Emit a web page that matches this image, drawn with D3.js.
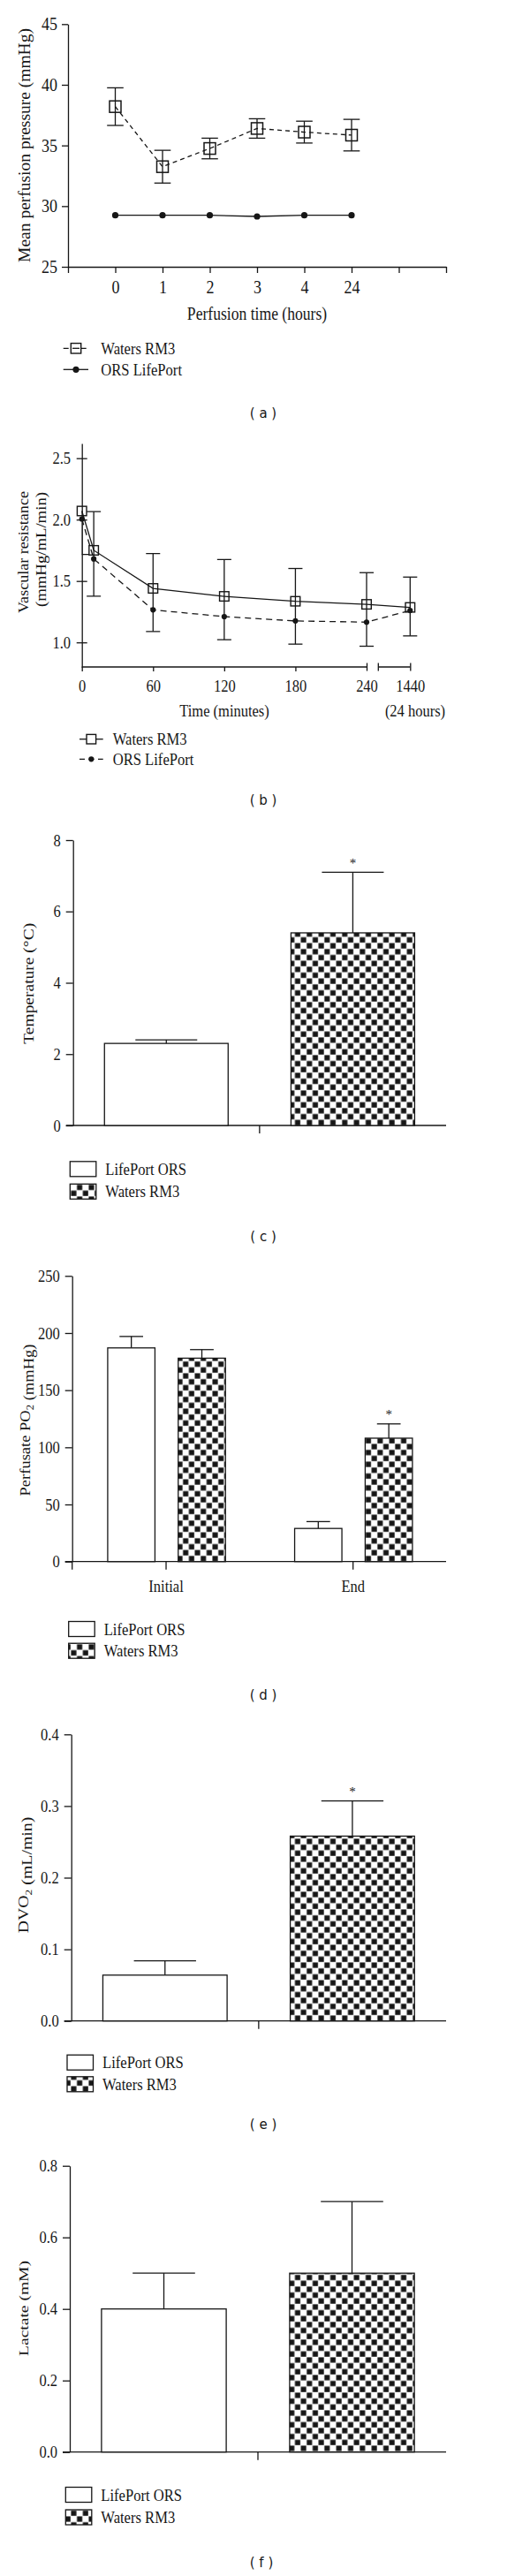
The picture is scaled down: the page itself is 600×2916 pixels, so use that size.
<!DOCTYPE html>
<html><head><meta charset="utf-8">
<script src="https://cdn.jsdelivr.net/npm/d3@7"></script>
<style>
html,body{margin:0;padding:0;background:#fff;}
</style></head>
<body><svg id="c" width="600" height="2916" style="display:block;background:#fff"></svg>
<script>
// ================= DATA =================
// (a) Mean perfusion pressure
const aTimeLabels = ["0", "1", "2", "3", "4", "24"];
const aWaters     = [38.2, 33.25, 34.75, 36.4, 36.1, 35.85];
const aWatersErr  = [1.55, 1.35, 0.85, 0.8, 0.9, 1.3];
const aORS        = [29.25, 29.25, 29.25, 29.15, 29.25, 29.25];
const aYTicks     = [25, 30, 35, 40, 45];

// (b) Vascular resistance
const bTimes      = [0, 10, 60, 120, 180, 240, 1440];
const bWaters     = [2.07, 1.75, 1.44, 1.375, 1.335, 1.31, 1.285];
const bWatersErr  = [0, 0.315, 0.284, 0.30, 0.267, 0.258, 0.247];
const bORS        = [2.005, 1.68, 1.265, 1.21, 1.175, 1.165, 1.26];
const bORSErr     = [0.288, 0.304, 0.176, 0.188, 0.189, 0.196, 0.207];
const bXTicks     = [0, 60, 120, 180, 240, 1440];
const bYTicks     = [1.0, 1.5, 2.0, 2.5];

// bar panels
const barSeries   = ["LifePort ORS", "Waters RM3"];
// (c) Temperature
const cValues     = [2.3, 5.4];
const cErr        = [0.1, 1.7];
const cYTicks     = [0, 2, 4, 6, 8];
// (d) Perfusate PO2
const dGroups     = ["Initial", "End"];
const dLifePort   = [187, 29];
const dLifePortErr= [10, 6];
const dWaters     = [178, 108];
const dWatersErr  = [7.5, 12.5];
const dYTicks     = [0, 50, 100, 150, 200, 250];
// (e) DVO2
const eValues     = [0.064, 0.258];
const eErr        = [0.02, 0.049];
const eYTicks     = [0, 0.1, 0.2, 0.3, 0.4];
// (f) Lactate
const fValues     = [0.4, 0.5];
const fErr        = [0.1, 0.2];
const fYTicks     = [0, 0.2, 0.4, 0.6, 0.8];

// ================= HELPERS =================
const INK = "#161616";
const SERIF = "'Liberation Serif','Times New Roman',serif";
const SANS = "'DejaVu Sans',Verdana,sans-serif";
const SY = 1.15;
const SW = 1.3;
const CAPX = 298;
const svg = d3.select("#c");

const defs = svg.append("defs");
function checker(id, cell) {
  const p = defs.append("pattern").attr("id", id).attr("patternUnits", "userSpaceOnUse")
    .attr("width", cell * 2).attr("height", cell * 2);
  p.append("rect").attr("width", cell * 2).attr("height", cell * 2).attr("fill", "#fff");
  p.append("rect").attr("x", 0.4).attr("y", 0.4).attr("width", cell - 0.6).attr("height", cell - 0.6).attr("fill", INK);
  p.append("rect").attr("x", cell + 0.4).attr("y", cell + 0.4).attr("width", cell - 0.6).attr("height", cell - 0.6).attr("fill", INK);
}
checker("chk", 6.67);

function hlabel(g, x, y, str, fs, anchor = "middle", family = SERIF, sy = SY) {
  return g.append("text").attr("font-family", family).attr("font-size", fs).attr("fill", INK)
    .attr("text-anchor", anchor).attr("dy", "0.35em")
    .attr("transform", `translate(${x},${y}) scale(1,${sy})`).text(str);
}
function vlabel(g, x, y, parts, fs, target) {
  const t = g.append("text").attr("font-family", SERIF).attr("font-size", fs).attr("fill", INK)
    .attr("text-anchor", "middle").attr("dy", "0.35em");
  parts.forEach(p => {
    if (typeof p === "string") t.append("tspan").text(p);
    else t.append("tspan").attr("font-size", fs * 0.68).attr("dy", p.dy).text(p.t);
  });
  let s = 1;
  try { const len = t.node().getComputedTextLength(); if (len > 0 && target) s = target / len; } catch (e) {}
  t.attr("transform", `translate(${x},${y}) rotate(-90) scale(${s},1)`);
  return t;
}
function styleAxis(g, fs) {
  g.select(".domain").attr("stroke", INK).attr("stroke-width", SW);
  g.selectAll(".tick line").attr("stroke", INK).attr("stroke-width", SW);
  g.selectAll(".tick text").attr("font-family", SERIF).attr("font-size", fs).attr("fill", INK)
    .attr("transform", `scale(1,${SY})`);
}
function caption(y, letter, x = CAPX) {
  hlabel(svg, x, y, `( ${letter} )`, 15, "middle", SANS, 1.05);
}

// ================= PANEL (a) =================
(function () {
  const g = svg.append("g");
  const x = d3.scaleLinear().domain([-1, 7]).range([77, 505]);
  const y = d3.scaleLinear().domain([25, 45]).range([302, 27.3]);
  const ya = g.append("g").attr("transform", `translate(${x(-1)},0)`)
    .call(d3.axisLeft(y).tickValues(aYTicks).tickSize(7).tickPadding(5).tickSizeOuter(0));
  styleAxis(ya, 18);
  const xa = g.append("g").attr("transform", `translate(0,${y(25)})`)
    .call(d3.axisBottom(x).tickValues(d3.range(-1, 8)).tickFormat(i => aTimeLabels[i] ?? "")
      .tickSize(7).tickPadding(6).tickSizeOuter(0));
  styleAxis(xa, 18);

  const idx = aWaters.map((_, i) => i);
  g.append("path").datum(aORS).attr("fill", "none").attr("stroke", INK).attr("stroke-width", SW)
    .attr("d", d3.line().x((d, i) => x(i)).y(d => y(d)));
  g.selectAll(".orsA").data(aORS).join("circle").attr("cx", (d, i) => x(i)).attr("cy", d => y(d))
    .attr("r", 3.6).attr("fill", INK);
  const eb = g.append("g").attr("stroke", INK).attr("stroke-width", SW);
  idx.forEach(i => {
    const cx = x(i), hi = y(aWaters[i] + aWatersErr[i]), lo = y(aWaters[i] - aWatersErr[i]);
    eb.append("line").attr("x1", cx).attr("x2", cx).attr("y1", hi).attr("y2", lo);
    eb.append("line").attr("x1", cx - 9.3).attr("x2", cx + 9.3).attr("y1", hi).attr("y2", hi);
    eb.append("line").attr("x1", cx - 9.3).attr("x2", cx + 9.3).attr("y1", lo).attr("y2", lo);
  });
  g.append("path").datum(aWaters).attr("fill", "none").attr("stroke", INK).attr("stroke-width", SW)
    .attr("stroke-dasharray", "5,4").attr("d", d3.line().x((d, i) => x(i)).y(d => y(d)));
  g.selectAll(".wA").data(aWaters).join("rect").attr("x", (d, i) => x(i) - 6.5).attr("y", d => y(d) - 6.5)
    .attr("width", 13).attr("height", 13).attr("fill", "none").attr("stroke", INK).attr("stroke-width", 1.5);

  vlabel(g, 28, 164.5, ["Mean perfusion pressure (mmHg)"], 18.5, 265);
  hlabel(g, 291, 355, "Perfusion time (hours)", 17.6);

  const L = g.append("g");
  L.append("line").attr("x1", 71.7).attr("x2", 100).attr("y1", 394.3).attr("y2", 394.3)
    .attr("stroke", INK).attr("stroke-width", SW).attr("stroke-dasharray", "6,4");
  L.append("rect").attr("x", 86 - 5.7).attr("y", 394.3 - 5.7).attr("width", 11.4).attr("height", 11.4)
    .attr("fill", "#fff").attr("stroke", INK).attr("stroke-width", 1.4);
  L.append("line").attr("x1", 82).attr("x2", 90).attr("y1", 394.3).attr("y2", 394.3).attr("stroke", INK).attr("stroke-width", SW);
  hlabel(L, 114.3, 394.3, "Waters RM3", 16.6, "start");
  L.append("line").attr("x1", 71.7).attr("x2", 100).attr("y1", 418.3).attr("y2", 418.3)
    .attr("stroke", INK).attr("stroke-width", SW);
  L.append("circle").attr("cx", 86).attr("cy", 418.3).attr("r", 3.6).attr("fill", INK);
  hlabel(L, 114.3, 418.3, "ORS LifePort", 16.6, "start");
  caption(467, "a");
})();

// ================= PANEL (b) =================
(function () {
  const g = svg.append("g");
  const x = d3.scaleLinear().domain([0, 240, 1440]).range([92.7, 415, 464.3]);
  const y = d3.scaleLinear().domain([0.8, 2.62]).range([755, 502]);
  const ya = g.append("g").attr("transform", `translate(${x(0)},0)`)
    .call(d3.axisLeft(y).tickValues(bYTicks).tickFormat(d3.format(".1f")).tickSize(6).tickPadding(6.7).tickSizeOuter(0));
  styleAxis(ya, 16.5);
  ya.selectAll(".tick line").attr("x1", 6);
  const xa = g.append("g").attr("transform", `translate(0,${y(0.8)})`)
    .call(d3.axisBottom(x).tickValues(bXTicks).tickFormat(d => String(d)).tickSize(5).tickPadding(8).tickSizeOuter(0));
  styleAxis(xa, 16.5);
  xa.select(".domain").remove();
  xa.selectAll(".tick line").filter(d => d >= 240).attr("y1", -4.5).attr("y2", 4.5);
  const y0 = y(0.8), gap = 13.3;
  g.append("line").attr("x1", x(0)).attr("x2", x(240)).attr("y1", y0).attr("y2", y0).attr("stroke", INK).attr("stroke-width", SW);
  g.append("line").attr("x1", x(240) + gap).attr("x2", x(1440)).attr("y1", y0).attr("y2", y0).attr("stroke", INK).attr("stroke-width", SW);
  g.append("line").attr("x1", x(240) + gap).attr("x2", x(240) + gap).attr("y1", y0 - 4.5).attr("y2", y0 + 4.5).attr("stroke", INK).attr("stroke-width", SW);

  defs.append("clipPath").attr("id", "clipB").append("rect").attr("x", x(0)).attr("y", 490).attr("width", 420).attr("height", 270);
  const eb = g.append("g").attr("clip-path", "url(#clipB)").attr("stroke", INK).attr("stroke-width", SW);
  bTimes.forEach((t, i) => {
    const cx = x(t);
    const top = y(bWaters[i] + bWatersErr[i]);
    const bot = y(bORS[i] - bORSErr[i]);
    eb.append("line").attr("x1", cx).attr("x2", cx).attr("y1", top).attr("y2", bot);
    if (bWatersErr[i] > 0) eb.append("line").attr("x1", cx - 8).attr("x2", cx + 8).attr("y1", top).attr("y2", top);
    if (bORSErr[i] > 0) eb.append("line").attr("x1", cx - 8).attr("x2", cx + 8).attr("y1", bot).attr("y2", bot);
  });
  g.append("path").datum(bORS).attr("fill", "none").attr("stroke", INK).attr("stroke-width", SW)
    .attr("stroke-dasharray", "7,5").attr("d", d3.line().x((d, i) => x(bTimes[i])).y(d => y(d)));
  g.append("path").datum(bWaters).attr("fill", "none").attr("stroke", INK).attr("stroke-width", SW)
    .attr("d", d3.line().x((d, i) => x(bTimes[i])).y(d => y(d)));
  g.selectAll(".wB").data(bWaters).join("rect").attr("x", (d, i) => x(bTimes[i]) - 5.3).attr("y", d => y(d) - 5.3)
    .attr("width", 10.6).attr("height", 10.6).attr("fill", "none").attr("stroke", INK).attr("stroke-width", 1.4);
  g.selectAll(".oB").data(bORS).join("circle").attr("cx", (d, i) => x(bTimes[i])).attr("cy", d => y(d))
    .attr("r", 3.1).attr("fill", INK);

  vlabel(g, 26.7, 625, ["Vascular resistance"], 16, 138);
  vlabel(g, 46, 622, ["(mmHg/mL/min)"], 16, 130);
  hlabel(g, 254, 804, "Time (minutes)", 16.5);
  hlabel(g, 470, 804, "(24 hours)", 16.5);

  const L = g.append("g");
  L.append("line").attr("x1", 90).attr("x2", 116.7).attr("y1", 836.7).attr("y2", 836.7).attr("stroke", INK).attr("stroke-width", SW);
  L.append("rect").attr("x", 103.3 - 5.3).attr("y", 836.7 - 5.3).attr("width", 10.6).attr("height", 10.6)
    .attr("fill", "#fff").attr("stroke", INK).attr("stroke-width", 1.4);
  hlabel(L, 127.7, 836.7, "Waters RM3", 16.6, "start");
  L.append("line").attr("x1", 90).attr("x2", 116.7).attr("y1", 859.3).attr("y2", 859.3).attr("stroke", INK)
    .attr("stroke-width", SW).attr("stroke-dasharray", "6,4.5");
  L.append("circle").attr("cx", 103.3).attr("cy", 859.3).attr("r", 3.1).attr("fill", INK);
  hlabel(L, 127.7, 859.3, "ORS LifePort", 16.6, "start");
  caption(905, "b");
})();

// ================= BAR PANELS =================
function barLegend(g, lx, y1, y2) {
  g.append("rect").attr("x", lx).attr("y", y1 - 8.5).attr("width", 29.5).attr("height", 17)
    .attr("fill", "#fff").attr("stroke", INK).attr("stroke-width", SW);
  hlabel(g, lx + 40, y1, barSeries[0], 16.6, "start");
  g.append("rect").attr("x", lx).attr("y", y2 - 8.5).attr("width", 29.5).attr("height", 17)
    .attr("fill", "url(#chk)").attr("stroke", INK).attr("stroke-width", SW);
  hlabel(g, lx + 40, y2, barSeries[1], 16.6, "start");
}
function drawBar(g, bx, bw, yScale, v, err, fill, star) {
  const y0 = yScale(0), yt = yScale(v), ye = yScale(v + err), cx = bx + bw / 2;
  g.append("line").attr("x1", cx).attr("x2", cx).attr("y1", yt).attr("y2", ye).attr("stroke", INK).attr("stroke-width", SW);
  g.append("line").attr("x1", cx - bw / 4).attr("x2", cx + bw / 4).attr("y1", ye).attr("y2", ye).attr("stroke", INK).attr("stroke-width", SW);
  g.append("rect").attr("x", bx).attr("y", yt).attr("width", bw).attr("height", y0 - yt)
    .attr("fill", fill).attr("stroke", INK).attr("stroke-width", SW);
  if (star) hlabel(g, cx, ye - 11, "*", 15, "middle", SERIF, 1);
}
function simpleBarPanel(cfg) {
  const g = svg.append("g");
  const y = d3.scaleLinear().domain(cfg.yDomain).range(cfg.yRange);
  const x = d3.scaleBand().domain(barSeries).range([cfg.x0, 505]).paddingInner(0.337).paddingOuter(0.1685);
  const ya = g.append("g").attr("transform", `translate(${cfg.x0},0)`)
    .call(d3.axisLeft(y).tickValues(cfg.yTicks).tickFormat(d3.format(cfg.fmt)).tickSize(8).tickPadding(6).tickSizeOuter(0));
  styleAxis(ya, 16.5);
  const y0 = y(0);
  g.append("line").attr("x1", cfg.x0 - 8).attr("x2", 505).attr("y1", y0).attr("y2", y0).attr("stroke", INK).attr("stroke-width", SW);
  const mid = (cfg.x0 + 505) / 2;
  g.append("line").attr("x1", mid).attr("x2", mid).attr("y1", y0).attr("y2", y0 + 9).attr("stroke", INK).attr("stroke-width", SW);
  barSeries.forEach((s, i) => drawBar(g, x(s), x.bandwidth(), y, cfg.values[i], cfg.err[i],
    i === 0 ? "#fff" : "url(#chk)", cfg.stars[i]));
  vlabel(g, cfg.labX, cfg.labY, cfg.label, cfg.labFs, cfg.labLen);
  barLegend(g, cfg.lx, cfg.ly1, cfg.ly2);
  caption(cfg.capY, cfg.letter, cfg.capX || CAPX);
}

// (c)
simpleBarPanel({ yDomain: [0, 8], yRange: [1274, 951], yTicks: cYTicks, fmt: "d", x0: 82.7,
  values: cValues, err: cErr, stars: [false, true],
  label: ["Temperature (°C)"], labX: 31.7, labY: 1113.3, labFs: 17.5, labLen: 137,
  lx: 79.3, ly1: 1323.3, ly2: 1348.8, capY: 1399, letter: "c" });

// (d)
(function () {
  const g = svg.append("g");
  const x0 = 81.7;
  const y = d3.scaleLinear().domain([0, 250]).range([1767.7, 1444.3]);
  const xo = d3.scaleBand().domain(dGroups).range([x0, 505]);
  const xi = d3.scaleBand().domain(barSeries).range([xo.bandwidth() * 0.19, xo.bandwidth() * 0.82]).paddingInner(0.33);
  const ya = g.append("g").attr("transform", `translate(${x0},0)`)
    .call(d3.axisLeft(y).tickValues(dYTicks).tickSize(8).tickPadding(6).tickSizeOuter(0));
  styleAxis(ya, 16.5);
  const y0 = y(0);
  g.append("line").attr("x1", x0).attr("x2", x0).attr("y1", y0).attr("y2", y0 + 9).attr("stroke", INK).attr("stroke-width", SW);
  const xa = g.append("g").attr("transform", `translate(0,${y0})`)
    .call(d3.axisBottom(d3.scalePoint().domain(dGroups).range([xo("Initial") + xo.bandwidth() / 2, xo("End") + xo.bandwidth() / 2]))
      .tickSize(9).tickPadding(9).tickSizeOuter(0));
  styleAxis(xa, 16.5);
  xa.select(".domain").remove();
  g.append("line").attr("x1", x0 - 8).attr("x2", 505).attr("y1", y0).attr("y2", y0).attr("stroke", INK).attr("stroke-width", SW);
  dGroups.forEach((grp, gi) => {
    drawBar(g, xo(grp) + xi(barSeries[0]), xi.bandwidth(), y, dLifePort[gi], dLifePortErr[gi], "#fff", false);
    drawBar(g, xo(grp) + xi(barSeries[1]), xi.bandwidth(), y, dWaters[gi], dWatersErr[gi], "url(#chk)", gi === 1);
  });
  vlabel(g, 28.3, 1607.5, ["Perfusate PO", { t: "2", dy: "0.3em" }, { t: "", dy: "-0.3em" }, " (mmHg)"], 17.5, 172);
  barLegend(g, 77.7, 1844, 1868.7);
  caption(1918.3, "d");
})();

// (e)
simpleBarPanel({ yDomain: [0, 0.4], yRange: [2287.7, 1963.3], yTicks: eYTicks, fmt: ".1f", x0: 80.7,
  values: eValues, err: eErr, stars: [false, true],
  label: ["DVO", { t: "2", dy: "0.3em" }, { t: "", dy: "-0.3em" }, " (mL/min)"], labX: 26.7, labY: 2122.5, labFs: 16.5, labLen: 131.7,
  lx: 76, ly1: 2334.7, ly2: 2359.3, capY: 2404, letter: "e" });

// (f)
simpleBarPanel({ yDomain: [0, 0.8], yRange: [2775.7, 2451.7], yTicks: fYTicks, fmt: ".1f", x0: 79,
  values: fValues, err: fErr, stars: [false, false],
  label: ["Lactate (mM)"], labX: 26.7, labY: 2613, labFs: 15.5, labLen: 108,
  lx: 74.3, ly1: 2824, ly2: 2849.5, capY: 2900, capX: CAPX - 2, letter: "f" });
</script>
</body></html>
